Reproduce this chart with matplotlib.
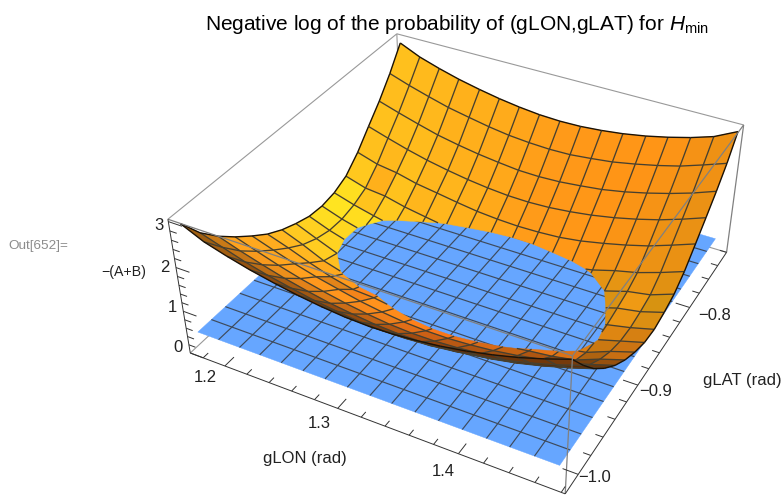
import numpy as np
import matplotlib
matplotlib.use('Agg')
import matplotlib.pyplot as plt
from mpl_toolkits.mplot3d.art3d import Poly3DCollection, Line3DCollection

plt.rcParams['font.family'] = ['Liberation Sans', 'DejaVu Sans']
plt.rcParams['mathtext.fontset'] = 'custom'
plt.rcParams['mathtext.rm'] = 'Liberation Sans'
plt.rcParams['mathtext.it'] = 'Liberation Sans:italic'

# mesh positions
glon = [1.175, 1.194, 1.213, 1.232, 1.252, 1.271, 1.290, 1.309, 1.328,
        1.347, 1.366, 1.385, 1.405, 1.424, 1.443, 1.462, 1.481]
glat = [-1.016, -0.998, -0.980, -0.962, -0.943, -0.925, -0.907, -0.889, -0.871,
        -0.853, -0.835, -0.817, -0.798, -0.780, -0.762, -0.744, -0.726]
plane_lon = [1.175, 1.194, 1.213, 1.231, 1.250, 1.269, 1.288, 1.307, 1.326,
             1.344, 1.363, 1.382, 1.401, 1.420, 1.438, 1.457, 1.476]
plane_lat = [-1.016, -1.000, -0.983, -0.965, -0.947, -0.930, -0.912, -0.894, -0.877,
             -0.859, -0.841, -0.823, -0.806, -0.788, -0.770, -0.752, -0.733]

# -(A+B), one row per glon, one column per glat
z_rows = [
    [2.95, 2.46, 2.09, 1.78, 1.49, 1.24, 1.05, 0.91, 0.80, 0.77, 0.82, 0.96, 1.27, 1.65, 2.02, 2.45, 2.95],
    [2.72, 2.30, 1.92, 1.61, 1.32, 1.07, 0.85, 0.70, 0.61, 0.60, 0.67, 0.81, 1.12, 1.50, 1.87, 2.29, 2.74],
    [2.57, 2.14, 1.77, 1.45, 1.16, 0.88, 0.62, 0.50, 0.46, 0.47, 0.55, 0.76, 1.05, 1.36, 1.73, 2.15, 2.59],
    [2.44, 2.01, 1.63, 1.31, 1.02, 0.71, 0.47, 0.36, 0.30, 0.32, 0.44, 0.64, 0.93, 1.24, 1.60, 2.02, 2.46],
    [2.33, 1.90, 1.51, 1.19, 0.90, 0.58, 0.40, 0.26, 0.20, 0.23, 0.35, 0.55, 0.85, 1.14, 1.50, 1.92, 2.35],
    [2.24, 1.80, 1.41, 1.09, 0.79, 0.55, 0.37, 0.23, 0.15, 0.15, 0.27, 0.47, 0.77, 1.06, 1.42, 1.83, 2.26],
    [2.17, 1.73, 1.34, 1.01, 0.71, 0.47, 0.29, 0.16, 0.08, 0.08, 0.20, 0.42, 0.70, 1.00, 1.36, 1.76, 2.19],
    [2.12, 1.67, 1.28, 0.95, 0.65, 0.41, 0.23, 0.10, 0.02, 0.04, 0.11, 0.37, 0.66, 0.96, 1.31, 1.72, 2.14],
    [2.10, 1.65, 1.25, 0.92, 0.62, 0.38, 0.20, 0.07, 0.00, 0.02, 0.10, 0.34, 0.64, 0.95, 1.30, 1.70, 2.12],
    [2.11, 1.66, 1.25, 0.92, 0.62, 0.38, 0.20, 0.07, 0.01, 0.03, 0.12, 0.34, 0.65, 0.97, 1.32, 1.71, 2.13],
    [2.15, 1.69, 1.29, 0.95, 0.65, 0.41, 0.23, 0.11, 0.05, 0.08, 0.17, 0.39, 0.68, 1.02, 1.37, 1.76, 2.17],
    [2.21, 1.75, 1.34, 1.00, 0.70, 0.46, 0.28, 0.16, 0.10, 0.14, 0.23, 0.43, 0.75, 1.09, 1.43, 1.82, 2.23],
    [2.30, 1.84, 1.42, 1.08, 0.78, 0.54, 0.37, 0.24, 0.19, 0.24, 0.33, 0.53, 0.86, 1.19, 1.53, 1.92, 2.32],
    [2.41, 1.94, 1.52, 1.18, 0.88, 0.60, 0.44, 0.36, 0.37, 0.42, 0.50, 0.68, 0.98, 1.31, 1.65, 2.03, 2.43],
    [2.54, 2.07, 1.65, 1.30, 0.99, 0.70, 0.53, 0.49, 0.51, 0.58, 0.66, 0.80, 1.12, 1.45, 1.79, 2.16, 2.56],
    [2.70, 2.22, 1.80, 1.45, 1.14, 0.91, 0.74, 0.64, 0.62, 0.67, 0.75, 0.97, 1.30, 1.62, 1.95, 2.33, 2.72],
    [2.88, 2.40, 1.97, 1.62, 1.31, 1.08, 0.91, 0.79, 0.76, 0.83, 0.94, 1.16, 1.49, 1.81, 2.14, 2.51, 2.97],
]
plane_level = 0.5

lon_range = [1.168, 1.483]
lat_range = [-1.02, -0.72]
z_range = [0.0, 3.05]
lon_major = [1.2, 1.3, 1.4]
lat_major = [-1.0, -0.9, -0.8]
z_major = [0, 1, 2, 3]

W, H = 783, 497

# where the box corners sit in the picture (pixels, y down)
box_corners = [
    ((0, 0, 0), (190, 353)), ((1, 0, 0), (565, 493)), ((1, 1, 0), (727, 253)),
    ((0, 0, 1), (168, 219)), ((1, 0, 1), (573, 357)), ((1, 1, 1), (743, 124)),
    ((0, 1, 1), (397, 34)),
]


def to_box(p):
    return ((p[0] - lon_range[0]) / (lon_range[1] - lon_range[0]),
            (p[1] - lat_range[0]) / (lat_range[1] - lat_range[0]),
            (p[2] - z_range[0]) / (z_range[1] - z_range[0]))


def fit_camera():
    """ Camera matrix from box corners to pixels. """
    rows = []
    for (a, b, c), (px, py) in box_corners:
        py = H - py
        rows.append([a, b, c, 1, 0, 0, 0, 0, -px * a, -px * b, -px * c, -px])
        rows.append([0, 0, 0, 0, a, b, c, 1, -py * a, -py * b, -py * c, -py])
    P = np.linalg.svd(np.array(rows))[2][-1].reshape(3, 4)
    S = np.array([[1 / (lon_range[1] - lon_range[0]), 0, 0, -lon_range[0] / (lon_range[1] - lon_range[0])],
                  [0, 1 / (lat_range[1] - lat_range[0]), 0, -lat_range[0] / (lat_range[1] - lat_range[0])],
                  [0, 0, 1 / (z_range[1] - z_range[0]), -z_range[0] / (z_range[1] - z_range[0])],
                  [0, 0, 0, 1]])
    P = P @ S
    centre = [np.mean(lon_range), np.mean(lat_range), np.mean(z_range), 1]
    return P / (P[2] @ centre)


camera = fit_camera()
eye = np.linalg.svd(camera)[2][-1]
eye = eye[:3] / eye[3]

fig = plt.figure(figsize=(W / 100, H / 100), dpi=100)
side = W / H
ax = fig.add_axes([0, (1 - side) / 2, 1, side], projection='3d', computed_zorder=False)
ax.set_axis_off()


def get_proj():
    P = np.linalg.inv(ax.transData.get_matrix()) @ camera
    return np.array([P[0], P[1], [0, 0, 0, -1], P[2]])


ax.get_proj = get_proj


def clip_poly(pts, level):
    """ Keeps the part of a polygon above level. """
    out = []
    for k in range(len(pts)):
        a, b = pts[k], pts[(k + 1) % len(pts)]
        if a[2] >= level:
            out.append(a)
        if (a[2] >= level) != (b[2] >= level):
            out.append(a + (b - a) * (level - a[2]) / (b[2] - a[2]))
    return out


def clip_seg(a, b, level):
    if a[2] < level and b[2] < level:
        return None
    if a[2] < level:
        a = a + (b - a) * (level - a[2]) / (b[2] - a[2])
    if b[2] < level:
        b = b + (a - b) * (level - b[2]) / (a[2] - b[2])
    return [a, b]


def cell_colour(c, view):
    """ Yellow to orange lighting from the cell normal, in box units. """
    b = [np.array(to_box(p)) for p in c]
    n = np.cross(b[2] - b[0], b[3] - b[1])
    n = n / np.linalg.norm(n)
    r = np.clip(280 + 100 * n[0] - 40 * max(n[1], 0), 0, 255)
    g = 168 + (105 if n[0] > 0 else 30) * n[0]
    g -= 42 * (n[1] + 0.4) if n[1] > -0.4 else 25 * abs(n[1] + 0.4)
    g = np.clip(g, 0, 255)
    bl = np.clip(25 + 12 * n[0], 0, 255)
    v = np.array(to_box(view)) - b[0]
    v = v / np.linalg.norm(v)
    face = abs(n @ v)
    light = np.clip(0.32 + 2.8 * face, 0, 1)
    return np.array([r, g, bl, 255]) * [light, light, light, 1] / 255


# plane first, everything above it comes later
plane_faces = []
for i in range(len(plane_lon) - 1):
    for j in range(len(plane_lat) - 1):
        plane_faces.append([(plane_lon[i], plane_lat[j], plane_level), (plane_lon[i + 1], plane_lat[j], plane_level),
                            (plane_lon[i + 1], plane_lat[j + 1], plane_level), (plane_lon[i], plane_lat[j + 1], plane_level)])
ax.add_collection3d(Poly3DCollection(plane_faces, facecolors='#66a6ff', edgecolors='#66a6ff',
                                     linewidths=0.3, zorder=2))
plane_lines = []
for x in plane_lon[1:-1]:
    plane_lines.append([(x, plane_lat[0], plane_level), (x, plane_lat[-1], plane_level)])
for y in plane_lat[1:-1]:
    plane_lines.append([(plane_lon[0], y, plane_level), (plane_lon[-1], y, plane_level)])
ax.add_collection3d(Line3DCollection(plane_lines, colors='#3d4a5c', linewidths=0.85, zorder=3))

# surface cells: split by which side faces the camera, the bowl is convex
grid = np.array([[[glon[i], glat[j], z_rows[i][j]] for j in range(len(glat))] for i in range(len(glon))])
inner_faces, inner_cols, outer_faces, outer_cols = [], [], [], []
is_outer = np.zeros((len(glon) - 1, len(glat) - 1), dtype=bool)
for i in range(len(glon) - 1):
    for j in range(len(glat) - 1):
        c = [grid[i, j], grid[i + 1, j], grid[i + 1, j + 1], grid[i, j + 1]]
        b = [np.array(to_box(p)) for p in c]
        n = np.cross(b[2] - b[0], b[3] - b[1])
        is_outer[i, j] = n @ (np.array(to_box(eye)) - np.mean(b, axis=0)) < 0
        piece = clip_poly(c, plane_level)
        if len(piece) < 3:
            continue
        col = cell_colour(c, eye)
        if is_outer[i, j]:
            outer_faces.append(piece)
            outer_cols.append(col)
        else:
            inner_faces.append(piece)
            inner_cols.append(col)

inner_lines, outer_lines, rim_lines = [], [], []
nx, ny = len(glon), len(glat)
for i in range(nx):
    for j in range(ny - 1):
        seg = clip_seg(grid[i, j], grid[i, j + 1], plane_level)
        if seg is None:
            continue
        if i == 0 or i == nx - 1:
            rim_lines.append(seg)
        elif is_outer[i - 1, j] or is_outer[i, j]:
            outer_lines.append(seg)
        else:
            inner_lines.append(seg)
for j in range(ny):
    for i in range(nx - 1):
        seg = clip_seg(grid[i, j], grid[i + 1, j], plane_level)
        if seg is None:
            continue
        if j == 0 or j == ny - 1:
            rim_lines.append(seg)
        elif is_outer[i, j - 1] or is_outer[i, j]:
            outer_lines.append(seg)
        else:
            inner_lines.append(seg)

ax.add_collection3d(Poly3DCollection(inner_faces, facecolors=inner_cols, edgecolors=inner_cols,
                                     linewidths=0.3, zorder=4))
ax.add_collection3d(Line3DCollection(inner_lines, colors='#47402f', linewidths=0.95, zorder=5))
if outer_faces:
    ax.add_collection3d(Poly3DCollection(outer_faces, facecolors=outer_cols, edgecolors=outer_cols,
                                         linewidths=0.3, zorder=6))
if outer_lines:
    ax.add_collection3d(Line3DCollection(outer_lines, colors='#47402f', linewidths=0.95, zorder=7))
ax.add_collection3d(Line3DCollection(rim_lines, colors='#1a1208', linewidths=1.0, zorder=8))

# box
x0, x1 = lon_range
y0, y1 = lat_range
z0, z1 = z_range
back = [[(x0, y0, z0), (x0, y1, z0)], [(x0, y1, z0), (x1, y1, z0)], [(x0, y1, z0), (x0, y1, z1)],
        [(x0, y0, z1), (x0, y1, z1)], [(x0, y1, z1), (x1, y1, z1)]]
ax.add_collection3d(Line3DCollection(back, colors='#999999', linewidths=0.8, zorder=1))
front = [[(x0, y0, z1), (x1, y0, z1)], [(x1, y0, z1), (x1, y1, z1)], [(x1, y0, z0), (x1, y0, z1)],
         [(x1, y1, z0), (x1, y1, z1)]]
ax.add_collection3d(Line3DCollection(front, colors='#808080', linewidths=0.9, zorder=9))
axes_lines = [[(x0, y0, z0), (x1, y0, z0)], [(x1, y0, z0), (x1, y1, z0)], [(x0, y0, z0), (x0, y0, z1)]]
ticks = []
for v in np.arange(1.18, 1.481, 0.02):
    s = 0.011 if min(abs(v - m) for m in lon_major) < 1e-6 else 0.006
    ticks.append([(v, y0, z0), (v, y0 + s, z0)])
for v in np.arange(-1.0, -0.719, 0.02):
    s = 0.012 if min(abs(v - m) for m in lat_major) < 1e-6 else 0.006
    ticks.append([(x1, v, z0), (x1 - s, v, z0)])
for v in np.arange(0, 3.01, 0.2):
    s = 0.012 if min(abs(v - m) for m in z_major) < 1e-6 else 0.006
    ticks.append([(x0, y0, v), (x0 + s, y0, v)])
ax.add_collection3d(Line3DCollection(axes_lines + ticks, colors='#333333', linewidths=0.7, zorder=9))


def label(x, y, s, size=12, color='#222222', ha='center'):
    fig.text(x / W, 1 - y / H, s, fontsize=size, color=color, ha=ha, va='center')


label(457, 24, r'Negative log of the probability of (gLON,gLAT) for $\mathit{H}_{\mathrm{min}}$', size=15, color='black')
label(38, 246, 'Out[652]=', size=9.7, color='#8c8c8c')
label(124, 272, '\u2212(A+B)', size=10.2)
label(305, 459, 'gLON (rad)')
label(742, 380, 'gLAT (rad)')
for v, x, y in zip(z_major, [178, 172, 165, 159], [347, 307, 267, 225]):
    label(x, y, str(v))
for v, x, y in zip(lon_major, [205, 319, 443], [378, 423, 472]):
    label(x, y, str(v))
for v, x, y in zip(lat_major, [595, 656, 715], [478, 392, 315]):
    label(x, y, '\u2212%.1f' % abs(v))

fig.savefig('out.png', dpi=100)
